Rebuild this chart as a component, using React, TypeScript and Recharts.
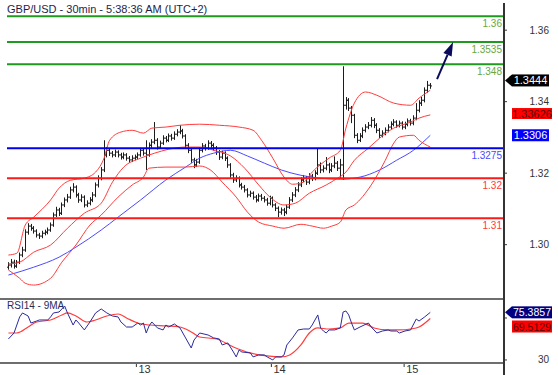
import React from "react";
import { ComposedChart, Bar, Line, XAxis, YAxis, ReferenceLine } from "recharts";

// 30 min bars, GBP/USD
const opens = [
  1.2937, 1.2943, 1.2951, 1.294, 1.2951, 1.2971, 1.2985, 1.3035, 1.3052, 1.3046,
  1.3038, 1.3027, 1.3024, 1.3032, 1.3035, 1.3041, 1.3055, 1.3083, 1.3097, 1.3088,
  1.3111, 1.3125, 1.3133, 1.3153, 1.3161, 1.3139, 1.3125, 1.3133, 1.3111, 1.3116,
  1.3125, 1.3139, 1.3167, 1.3186, 1.3209, 1.3251, 1.3264, 1.3256, 1.3251, 1.3259,
  1.3251, 1.3245, 1.3251, 1.3242, 1.3237, 1.3242, 1.3245, 1.3251, 1.3264, 1.3256,
  1.3251, 1.3278, 1.3287, 1.3292, 1.3273, 1.3284, 1.3298, 1.3292, 1.3304, 1.3298,
  1.3309, 1.3315, 1.3318, 1.3304, 1.3278, 1.3264, 1.3237, 1.3223, 1.3231, 1.3264,
  1.3276, 1.327, 1.3284, 1.3278, 1.327, 1.3259, 1.3245, 1.3256, 1.3242, 1.3223,
  1.3195, 1.3181, 1.3186, 1.3167, 1.3161, 1.3153, 1.3139, 1.3144, 1.3133, 1.3125,
  1.3136, 1.313, 1.3125, 1.3116, 1.313, 1.3111, 1.3102, 1.3091, 1.3097, 1.3091,
  1.3105, 1.3125, 1.3139, 1.3153, 1.3167, 1.3181, 1.3186, 1.3175, 1.3192, 1.3186,
  1.32, 1.3223, 1.3209, 1.3214, 1.3223, 1.3209, 1.322, 1.3228, 1.3214, 1.3223,
  1.339, 1.3404, 1.3382, 1.3362, 1.3306, 1.3292, 1.3304, 1.332, 1.3329, 1.3334,
  1.3348, 1.3334, 1.332, 1.3306, 1.3312, 1.332, 1.3329, 1.3337, 1.3343, 1.3334,
  1.334, 1.3329, 1.3337, 1.3346, 1.334, 1.3354, 1.3376, 1.3396, 1.3404, 1.3432,
  1.3446,
];
const highs = [
  1.2951, 1.296, 1.2958, 1.2957, 1.2978, 1.2994, 1.3043, 1.306, 1.3058, 1.3052,
  1.3043, 1.3033, 1.3039, 1.3042, 1.3048, 1.3062, 1.309, 1.3106, 1.3103, 1.3118,
  1.3132, 1.3142, 1.3162, 1.3172, 1.3166, 1.3145, 1.3141, 1.3138, 1.3124, 1.3133,
  1.3147, 1.3174, 1.3194, 1.3217, 1.3292, 1.3273, 1.327, 1.3262, 1.3266, 1.3264,
  1.3257, 1.3258, 1.3256, 1.3248, 1.325, 1.3252, 1.3258, 1.3271, 1.3269, 1.3292,
  1.3286, 1.3295, 1.3343, 1.3298, 1.3291, 1.3306, 1.3304, 1.3311, 1.331, 1.3317,
  1.3323, 1.3334, 1.3324, 1.3309, 1.3284, 1.3269, 1.3243, 1.324, 1.3272, 1.3284,
  1.3282, 1.3292, 1.329, 1.3284, 1.3276, 1.3265, 1.3263, 1.3261, 1.3247, 1.3228,
  1.3201, 1.3194, 1.3191, 1.3173, 1.3167, 1.3158, 1.3151, 1.3149, 1.3139, 1.3143,
  1.3142, 1.3136, 1.3131, 1.3137, 1.3135, 1.3116, 1.3107, 1.3104, 1.3103, 1.3112,
  1.3133, 1.3147, 1.3161, 1.3175, 1.3189, 1.3195, 1.3192, 1.32, 1.3198, 1.3208,
  1.327, 1.323, 1.3222, 1.3245, 1.3229, 1.3228, 1.3247, 1.3234, 1.324, 1.3499,
  1.3413, 1.341, 1.3388, 1.3366, 1.3312, 1.3312, 1.3328, 1.3337, 1.3343, 1.3357,
  1.3354, 1.334, 1.3326, 1.332, 1.3328, 1.3337, 1.3345, 1.3351, 1.3348, 1.3347,
  1.3345, 1.3344, 1.3353, 1.3352, 1.3362, 1.3396, 1.3404, 1.3413, 1.344, 1.3458,
  1.3452,
];
const lows = [
  1.293, 1.2936, 1.2933, 1.2935, 1.2946, 1.2965, 1.298, 1.3028, 1.3039, 1.3031,
  1.302, 1.3016, 1.3018, 1.3026, 1.3029, 1.3036, 1.305, 1.3077, 1.308, 1.3083,
  1.3105, 1.3118, 1.3128, 1.3146, 1.3132, 1.3117, 1.3119, 1.3104, 1.3105, 1.311,
  1.3119, 1.3133, 1.316, 1.318, 1.3203, 1.3244, 1.3248, 1.3244, 1.3245, 1.3244,
  1.3238, 1.3239, 1.3235, 1.3229, 1.3231, 1.3236, 1.3239, 1.3246, 1.3249, 1.3209,
  1.3246, 1.3271, 1.3281, 1.3266, 1.3268, 1.3279, 1.3286, 1.3287, 1.3291, 1.3293,
  1.3303, 1.3309, 1.3297, 1.3271, 1.3256, 1.3229, 1.3214, 1.3217, 1.3226, 1.3258,
  1.3263, 1.3265, 1.3271, 1.3263, 1.3251, 1.3237, 1.3239, 1.3234, 1.3215, 1.3187,
  1.3173, 1.3175, 1.316, 1.3154, 1.3146, 1.3132, 1.3133, 1.3126, 1.3118, 1.312,
  1.3123, 1.3118, 1.3109, 1.311, 1.3104, 1.3094, 1.3077, 1.3084, 1.308, 1.3085,
  1.31, 1.3119, 1.3133, 1.3147, 1.3161, 1.3175, 1.3167, 1.3169, 1.3178, 1.318,
  1.3195, 1.32, 1.3202, 1.3208, 1.32, 1.3203, 1.3214, 1.3206, 1.3186, 1.3181,
  1.3378, 1.3374, 1.334, 1.3298, 1.3284, 1.3287, 1.3298, 1.3314, 1.3323, 1.3328,
  1.3326, 1.3312, 1.3298, 1.33, 1.3306, 1.3314, 1.3323, 1.3331, 1.3327, 1.3328,
  1.3322, 1.3323, 1.3331, 1.3333, 1.3334, 1.3348, 1.337, 1.3388, 1.3398, 1.3425,
  1.3436,
];
const closes = [
  1.2943, 1.2951, 1.294, 1.2951, 1.2971, 1.2985, 1.3035, 1.3052, 1.3046, 1.3038,
  1.3027, 1.3024, 1.3032, 1.3035, 1.3041, 1.3055, 1.3083, 1.3097, 1.3088, 1.3111,
  1.3125, 1.3133, 1.3153, 1.3161, 1.3139, 1.3125, 1.3133, 1.3111, 1.3116, 1.3125,
  1.3139, 1.3167, 1.3186, 1.3209, 1.3251, 1.3264, 1.3256, 1.3251, 1.3259, 1.3251,
  1.3245, 1.3251, 1.3242, 1.3237, 1.3242, 1.3245, 1.3251, 1.3264, 1.3256, 1.3251,
  1.3278, 1.3287, 1.3292, 1.3273, 1.3284, 1.3298, 1.3292, 1.3304, 1.3298, 1.3309,
  1.3315, 1.3318, 1.3304, 1.3278, 1.3264, 1.3237, 1.3223, 1.3231, 1.3264, 1.3276,
  1.327, 1.3284, 1.3278, 1.327, 1.3259, 1.3245, 1.3256, 1.3242, 1.3223, 1.3195,
  1.3181, 1.3186, 1.3167, 1.3161, 1.3153, 1.3139, 1.3144, 1.3133, 1.3125, 1.3136,
  1.313, 1.3125, 1.3116, 1.313, 1.3111, 1.3102, 1.3091, 1.3097, 1.3091, 1.3105,
  1.3125, 1.3139, 1.3153, 1.3167, 1.3181, 1.3186, 1.3175, 1.3192, 1.3186, 1.32,
  1.3223, 1.3209, 1.3214, 1.3223, 1.3209, 1.322, 1.3228, 1.3214, 1.3223, 1.339,
  1.3404, 1.3382, 1.3362, 1.3306, 1.3292, 1.3304, 1.332, 1.3329, 1.3334, 1.3348,
  1.3334, 1.332, 1.3306, 1.3312, 1.332, 1.3329, 1.3337, 1.3343, 1.3334, 1.334,
  1.3329, 1.3337, 1.3346, 1.334, 1.3354, 1.3376, 1.3396, 1.3404, 1.3432, 1.3446,
  1.3444,
];

// indicator readings [bar index, value]
const upperBand = [
  [0, 1.2971], [3, 1.2976], [6, 1.3055], [9, 1.3077], [15, 1.3125], [18, 1.3158], [22, 1.318],
  [27, 1.3186], [31, 1.3203], [34, 1.3242], [36, 1.3292], [40, 1.3315], [44, 1.332], [48, 1.3312],
  [51, 1.3326], [56, 1.3329], [61, 1.3334], [68, 1.3337], [75, 1.3334], [82, 1.3329], [87, 1.332],
  [90, 1.3292], [94, 1.3242], [98, 1.3189], [101, 1.3169], [105, 1.3175], [108, 1.3203], [114, 1.3242],
  [118, 1.3264], [120, 1.3326], [123, 1.3396], [127, 1.3427], [131, 1.3418], [137, 1.3396],
  [143, 1.339], [146, 1.341], [150, 1.3432],
];
const middleBand = [
  [0, 1.2946], [4, 1.2951], [9, 1.2979], [15, 1.2999], [21, 1.3046], [27, 1.3088], [33, 1.3116],
  [37, 1.3175], [41, 1.3217], [47, 1.3242], [52, 1.3256], [57, 1.3267], [63, 1.3273], [68, 1.3273],
  [73, 1.3264], [79, 1.3248], [84, 1.3214], [89, 1.3167], [93, 1.3133], [98, 1.3111], [102, 1.3116],
  [107, 1.3144], [113, 1.3167], [117, 1.3186], [120, 1.3203], [123, 1.3236], [128, 1.327],
  [132, 1.3298], [137, 1.3326], [143, 1.3343], [146, 1.3354], [150, 1.3363],
];
const lowerBand = [
  [0, 1.2929], [4, 1.2906], [6, 1.2892], [9, 1.2887], [15, 1.2906], [19, 1.2951], [24, 1.2999],
  [29, 1.3055], [33, 1.3083], [39, 1.3133], [44, 1.3167], [48, 1.3189], [50, 1.3214], [56, 1.3217],
  [63, 1.3217], [68, 1.322], [72, 1.3208], [76, 1.3175], [81, 1.3133], [85, 1.3091], [89, 1.3063],
  [94, 1.3052], [98, 1.3046], [104, 1.3057], [108, 1.3052], [112, 1.3046], [115, 1.3052],
  [118, 1.3063], [120, 1.3097], [123, 1.3111], [129, 1.3167], [134, 1.3236], [137, 1.3284],
  [139, 1.3301], [144, 1.3306], [146, 1.3292], [150, 1.3273],
];
const maLine = [
  [0, 1.2915], [9, 1.2937], [18, 1.2965], [24, 1.2993], [33, 1.3041], [39, 1.3077], [47, 1.3125],
  [56, 1.3181], [63, 1.3217], [68, 1.3242], [73, 1.3256], [79, 1.3264], [85, 1.3248], [91, 1.3228],
  [97, 1.3209], [104, 1.3194], [111, 1.3186], [118, 1.3183], [125, 1.3189], [132, 1.3209],
  [138, 1.3236], [144, 1.3264], [150, 1.3306],
];
const rsi14 = [
  [0, 50.0], [2, 55.7], [4, 71.0], [5, 74.8], [7, 71.9], [8, 65.2], [10, 67.1], [11, 68.1], [14, 68.1],
  [15, 71.0], [16, 74.8], [18, 75.7], [19, 78.6], [20, 81.4], [21, 74.8], [23, 63.3], [24, 68.1],
  [25, 65.2], [27, 58.6], [29, 66.2], [31, 74.8], [33, 78.6], [35, 74.8], [37, 71.9], [39, 71.0],
  [40, 66.2], [42, 61.4], [44, 61.4], [46, 65.2], [47, 63.3], [48, 65.2], [49, 55.7], [50, 62.4],
  [51, 66.2], [53, 60.5], [55, 58.6], [56, 63.3], [57, 61.4], [59, 64.3], [61, 60.5], [63, 51.0],
  [65, 41.4], [66, 49.0], [68, 55.7], [71, 53.8], [73, 51.0], [75, 50.0], [76, 44.3], [78, 46.2],
  [80, 37.6], [81, 32.9], [82, 39.5], [83, 37.6], [86, 36.7], [87, 32.9], [89, 34.8], [91, 34.8],
  [92, 32.9], [94, 30.0], [95, 32.9], [97, 32.9], [98, 34.8], [99, 44.3], [101, 51.0], [103, 58.6],
  [105, 59.5], [107, 59.5], [108, 63.3], [110, 72.9], [111, 60.5], [112, 57.6], [113, 55.7],
  [114, 58.6], [116, 58.6], [117, 59.5], [118, 60.5], [119, 75.7], [120, 76.7], [121, 72.9],
  [122, 65.2], [123, 58.6], [125, 61.4], [128, 65.2], [129, 61.4], [131, 55.7], [133, 57.6],
  [135, 58.6], [136, 57.6], [138, 57.6], [139, 55.7], [141, 57.6], [143, 58.6], [145, 69.0],
  [146, 67.1], [148, 71.0], [150, 75.3857],
];
const rsiMa9 = [
  [0, 55.7], [3, 55.7], [7, 61.4], [10, 66.2], [15, 68.1], [19, 72.9], [21, 74.8], [24, 71.9],
  [28, 66.2], [31, 68.1], [35, 71.9], [39, 73.8], [42, 70.0], [46, 65.2], [50, 63.3], [56, 62.4],
  [61, 61.4], [65, 56.7], [68, 51.9], [74, 50.0], [80, 42.4], [86, 36.7], [92, 33.8], [97, 32.9],
  [100, 34.8], [104, 44.3], [107, 55.7], [110, 60.5], [114, 59.5], [118, 60.5], [121, 65.2],
  [126, 65.2], [130, 60.5], [135, 58.6], [139, 58.6], [143, 59.5], [146, 61.4], [150, 69.5129],
];

// analyst levels (value where drawn, label text, colour)
const levelValues = [1.3639, 1.3567, 1.3505, 1.327, 1.3186, 1.3074];
const levelLabels = ["1.36", "1.3535", "1.348", "1.3275", "1.32", "1.31"];
const levelColors = ["#1f9a1f", "#1f9a1f", "#1f9a1f", "#0000ee", "#ff1a1a", "#ff1a1a"];
const levelTextColors = ["#6aa83a", "#6aa83a", "#6aa83a", "#4a4aff", "#ff3a3a", "#ff3a3a"];

const priceTicks = [1.3, 1.32, 1.34, 1.36];
const rsiTicks = [30, 50, 70];
const dayTicks = [45.5, 93.5, 140.7];
const dayLabels = ["13", "14", "15"];

const X_DOMAIN: [number, number] = [-0.5, 175.85];
const PRICE_DOMAIN: [number, number] = [1.2848, 1.3676];
const RSI_DOMAIN: [number, number] = [27.1, 88.1];

const priceRows: any[] = closes.map((c, i) => ({
  i,
  o: opens[i],
  h: highs[i],
  l: lows[i],
  c,
  range: [lows[i], highs[i]],
}));
upperBand.forEach(([i, v]) => (priceRows[i].upper = v));
middleBand.forEach(([i, v]) => (priceRows[i].middle = v));
lowerBand.forEach(([i, v]) => (priceRows[i].lower = v));
maLine.forEach(([i, v]) => (priceRows[i].ma = v));

const rsiRows: any[] = closes.map((_, i) => ({ i }));
rsi14.forEach(([i, v]) => (rsiRows[i].rsi = v));
rsiMa9.forEach(([i, v]) => (rsiRows[i].rsiMa = v));

const FONT = "'Liberation Sans', Arial, sans-serif";

function OhlcBar(props: any) {
  const { x, y, width, height, payload } = props;
  if (!payload || x == null) return null;
  const cx = Math.round(x + width / 2) + 0.5;
  const top = Math.min(y, y + height);
  const bot = Math.max(y, y + height);
  const span = payload.h - payload.l || 1e-9;
  const yOf = (v: number) => top + ((payload.h - v) / span) * (bot - top);
  return (
    <g stroke="#1c1c1c" strokeWidth={1}>
      <line x1={cx} x2={cx} y1={top} y2={bot} />
      <line x1={cx - 1.5} x2={cx} y1={yOf(payload.o)} y2={yOf(payload.o)} />
      <line x1={cx} x2={cx + 1.5} y1={yOf(payload.c)} y2={yOf(payload.c)} />
    </g>
  );
}

function LevelLabel(props: any) {
  const { viewBox, text, color } = props;
  if (!viewBox) return null;
  return (
    <text x={viewBox.x + viewBox.width - 1} y={viewBox.y + 11} textAnchor="end" fill={color} fontSize={10} fontFamily={FONT}>
      {text}
    </text>
  );
}

function PriceTag(props: any) {
  const { viewBox, text, bg, fg, arrow, dy = 0, w = 37, h = 12, fontSize = 11 } = props;
  if (!viewBox) return null;
  const x0 = viewBox.x + viewBox.width;
  const y = viewBox.y + dy;
  return (
    <g>
      {arrow && <polygon points={`${x0 + 2},${y} ${x0 + 9},${y - h / 2} ${x0 + 9},${y + h / 2}`} fill={bg} />}
      <rect x={x0 + 9} y={y - h / 2} width={w} height={h} fill={bg} />
      <text x={x0 + 9 + w / 2} y={y + 4} textAnchor="middle" fill={fg} fontSize={fontSize} fontFamily={FONT}>
        {text}
      </text>
    </g>
  );
}

function ArrowShape(p: any) {
  const { x1, y1, x2, y2 } = p;
  if (x1 == null) return null;
  const dx = x2 - x1;
  const dy = y2 - y1;
  const len = Math.hypot(dx, dy) || 1;
  const ux = dx / len;
  const uy = dy / len;
  const hl = 14;
  const hw = 4.5;
  const bx = x2 - ux * hl;
  const by = y2 - uy * hl;
  return (
    <g>
      <line x1={x1} y1={y1} x2={bx} y2={by} stroke="#0b0b5c" strokeWidth={2} />
      <polygon points={`${x2},${y2} ${bx - uy * hw},${by + ux * hw} ${bx + uy * hw},${by - ux * hw}`} fill="#0b0b5c" />
    </g>
  );
}

const PriceTick = (p: any) => (
  <text x={549} y={p.y + 3.5} textAnchor="end" fontSize={10} fill="#333" fontFamily={FONT}>
    {Number(p.payload.value).toFixed(2)}
  </text>
);

const RsiTick = (p: any) =>
  p.payload.value === 70 ? (
    <g />
  ) : (
    <text x={549} y={p.y + 3.5} textAnchor="end" fontSize={10} fill="#333" fontFamily={FONT}>
      {p.payload.value}
    </text>
  );

const DayTick = (p: any) => (
  <text x={p.x + 2} y={74} fontSize={11} fill="#333" fontFamily={FONT}>
    {dayLabels[dayTicks.indexOf(p.payload.value)]}
  </text>
);

export default function App() {
  return (
    <div
      style={{
        position: "absolute",
        left: 0,
        top: 0,
        width: 558,
        height: 375,
        background: "#fff",
        fontFamily: FONT,
        overflow: "hidden",
      }}
    >
      <div style={{ position: "absolute", left: 0, top: 0 }}>
        <ComposedChart width={558} height={299} data={priceRows} margin={{ top: 3, right: 0, bottom: 0, left: 7 }}>
          <XAxis dataKey="i" type="number" domain={X_DOMAIN} allowDataOverflow hide />
          <YAxis
            orientation="right"
            width={55}
            domain={PRICE_DOMAIN}
            allowDataOverflow
            ticks={priceTicks}
            axisLine={false}
            tickSize={4}
            tickLine={{ stroke: "#333" }}
            tick={PriceTick}
          />
          <Line dataKey="ma" type="monotone" stroke="#4a4aff" strokeWidth={1} dot={false} activeDot={false} connectNulls isAnimationActive={false} />
          <Line dataKey="upper" type="monotone" stroke="#ff3c3c" strokeWidth={1} dot={false} activeDot={false} connectNulls isAnimationActive={false} />
          <Line dataKey="middle" type="monotone" stroke="#ff3c3c" strokeWidth={1} dot={false} activeDot={false} connectNulls isAnimationActive={false} />
          <Line dataKey="lower" type="monotone" stroke="#ff3c3c" strokeWidth={1} dot={false} activeDot={false} connectNulls isAnimationActive={false} />
          <Bar dataKey="range" barSize={2} shape={<OhlcBar />} isAnimationActive={false} />
          {levelValues.map((v, k) => (
            <ReferenceLine
              key={k}
              y={v}
              stroke={levelColors[k]}
              strokeWidth={2}
              label={<LevelLabel text={levelLabels[k]} color={levelTextColors[k]} />}
            />
          ))}
          <ReferenceLine
            segment={[
              { x: 152.4, y: 1.3463 },
              { x: 158.1, y: 1.3567 },
            ]}
            shape={ArrowShape}
          />
          <ReferenceLine y={1.3444} stroke="none" label={<PriceTag text="1.3444" bg="#000" fg="#fff" arrow dy={-5.5} />} />
          <ReferenceLine y={1.33626} stroke="none" label={<PriceTag text="1.33626" bg="#ff0000" fg="#5a0000" dy={-1.5} h={11} w={40} />} />
          <ReferenceLine y={1.3306} stroke="none" label={<PriceTag text="1.3306" bg="#0000ff" fg="#fff" />} />
        </ComposedChart>
      </div>

      <div style={{ position: "absolute", left: 0, top: 299 }}>
        <ComposedChart width={558} height={76} data={rsiRows} margin={{ top: 0, right: 0, bottom: 0, left: 7 }}>
          <XAxis
            dataKey="i"
            type="number"
            domain={X_DOMAIN}
            allowDataOverflow
            ticks={dayTicks}
            height={12}
            axisLine={false}
            tickSize={4}
            tickLine={{ stroke: "#333" }}
            tick={DayTick}
          />
          <YAxis
            orientation="right"
            width={55}
            domain={RSI_DOMAIN}
            allowDataOverflow
            ticks={rsiTicks}
            axisLine={false}
            tickSize={4}
            tickLine={{ stroke: "#333" }}
            tick={RsiTick}
          />
          <Line dataKey="rsiMa" type="monotone" stroke="#ff3c3c" strokeWidth={1.2} dot={false} activeDot={false} connectNulls isAnimationActive={false} />
          <Line dataKey="rsi" type="linear" stroke="#2b2b9c" strokeWidth={1} dot={false} activeDot={false} connectNulls isAnimationActive={false} />
          <ReferenceLine y={75.3857} stroke="none" label={<PriceTag text="75.3857" bg="#000080" fg="#fff" arrow w={40} fontSize={10.5} />} />
          <ReferenceLine y={69.5129} stroke="none" label={<PriceTag text="69.5129" bg="#ff0000" fg="#5a0000" dy={8} w={40} fontSize={10.5} />} />
        </ComposedChart>
      </div>

      <div style={{ position: "absolute", left: 7, top: 3, fontSize: 11, color: "#1e1e48", whiteSpace: "nowrap" }}>
        GBP/USD - 30min - 5:38:36 AM (UTC+2)
      </div>
      <div style={{ position: "absolute", left: 7, top: 300, fontSize: 10, color: "#2a2a5a", whiteSpace: "nowrap" }}>
        RSI14 - 9MA
      </div>
      <div style={{ position: "absolute", left: 0, top: 298, width: 504, height: 2, background: "#6e6e6e" }} />
      <div style={{ position: "absolute", left: 0, top: 362, width: 504, height: 2, background: "#6e6e6e" }} />
      <div style={{ position: "absolute", left: 503, top: 3, width: 2, height: 372, background: "#333" }} />
    </div>
  );
}
